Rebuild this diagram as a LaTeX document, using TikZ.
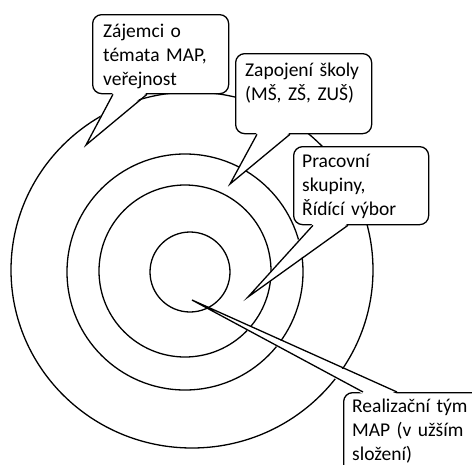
\documentclass[tikz,border=0pt]{standalone}
\usepackage{fontspec}
\setmainfont{Carlito}
\usetikzlibrary{positioning,calc}

\begin{document}
\begin{tikzpicture}[
  x = 1pt,
  y = -1pt,
  ring/.style = {
    draw,
    line width = 1.3pt,
  },
  callout/.style = {
    draw,
    fill = white,
    rounded corners = 9pt,
    line width = 1.3pt,
    anchor = north west,
    inner sep = 0pt,
  },
  spicka/.style = {
    draw,
    line width = 1.3pt,
    line join = miter,
  },
  popis/.style = {
    anchor = base west,
    align = left,
    inner sep = 0pt,
    text width = 125pt,
    font = \fontsize{19.5}{24.3}\selectfont,
  },
]

  \useasboundingbox (0,0) rectangle (472,464);
  \clip (0,0) rectangle (472,464);

  % rings
  \draw[ring] (190,272) circle[radius=40];
  \draw[ring] (185,271) circle[radius=86];
  \draw[ring] (185,272) circle[radius=118];
  \draw[ring] (192,270) ellipse[x radius=181, y radius=178];

  % tips of the callouts
  \coordinate (tz) at (86,145);
  \coordinate (ts) at (230,184);
  \coordinate (tp) at (248,297);
  \coordinate (tr) at (192,300);

  % Zajemci
  \node[callout,minimum width=136pt,minimum height=79pt] (zajemci) at (92,14) {};
  \fill[white] ([xshift=21pt,yshift=2pt]zajemci.south west) -- (tz) -- ([xshift=55pt,yshift=2pt]zajemci.south west) -- cycle;
  \draw[spicka] ([xshift=21pt]zajemci.south west) -- (tz) -- ([xshift=55pt]zajemci.south west);
  \node[popis] (zajemcitext) at (103,37) {Zájemci o\\témata MAP,\\veřejnost};

  % Skoly
  \node[callout,minimum width=136pt,minimum height=80pt] (skoly) at (235,53) {};
  \fill[white] ([xshift=22pt,yshift=2pt]skoly.south west) -- (ts) -- ([xshift=55pt,yshift=2pt]skoly.south west) -- cycle;
  \draw[spicka] ([xshift=22pt]skoly.south west) -- (ts) -- ([xshift=55pt]skoly.south west);
  \node[popis] (skolytext) at (245,76) {Zapojení školy\\(MŠ, ZŠ, ZUŠ)};

  % Pracovni skupiny
  \node[callout,minimum width=135pt,minimum height=78pt] (skupiny) at (293,146) {};
  \fill[white] ([xshift=20pt,yshift=2pt]skupiny.south west) -- (tp) -- ([xshift=55pt,yshift=2pt]skupiny.south west) -- cycle;
  \draw[spicka] ([xshift=20pt]skupiny.south west) -- (tp) -- ([xshift=55pt]skupiny.south west);
  \node[popis] (skupinytext) at (302,167) {Pracovní\\skupiny,\\Řídící výbor};

  % Realizacni tym
  \node[callout,minimum width=140pt,minimum height=85pt] (tym) at (343,392) {};
  \fill[white] ([xshift=20pt,yshift=-2pt]tym.north west) -- (tr) -- ([xshift=54pt,yshift=-2pt]tym.north west) -- cycle;
  \draw[spicka] ([xshift=20pt]tym.north west) -- (tr) -- ([xshift=54pt]tym.north west);
  \node[popis] (tymtext) at (352,412) {Realizační tým\\MAP (v užším\\složení)};

\end{tikzpicture}
\end{document}
